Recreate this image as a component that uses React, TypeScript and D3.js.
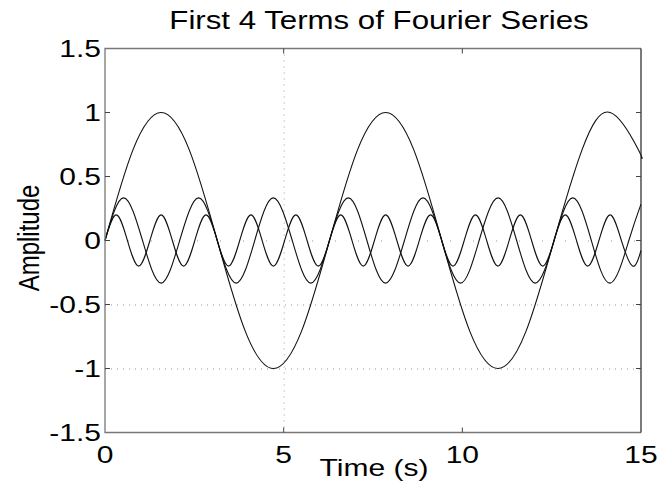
import React, { useEffect, useRef } from 'react';
import * as d3 from 'd3';

// values: peaks, troughs, zero crossings (and eighth points for the big one)
const term1: [number, number][] = [
  [0, 0], [0.785, 0.71], [1.571, 1], [2.356, 0.71], [3.142, 0], [3.927, -0.71],
  [4.712, -1], [5.498, -0.71], [6.283, 0], [7.069, 0.71], [7.854, 1], [8.639, 0.71],
  [9.425, 0], [10.21, -0.71], [10.996, -1], [11.781, -0.71], [12.566, 0], [13.352, 0.71],
  [14.137, 1], [14.923, 0.71], [15, 0.65],
];

const term3: [number, number][] = [
  [0, 0], [0.52, 0.333], [1.05, 0], [1.57, -0.333], [2.09, 0], [2.62, 0.333],
  [3.14, 0], [3.67, -0.333], [4.19, 0], [4.71, 0.333], [5.24, 0], [5.76, -0.333],
  [6.28, 0], [6.81, 0.333], [7.33, 0], [7.85, -0.333], [8.38, 0], [8.9, 0.333],
  [9.42, 0], [9.95, -0.333], [10.47, 0], [11.0, 0.333], [11.52, 0], [12.04, -0.333],
  [12.57, 0], [13.09, 0.333], [13.61, 0], [14.14, -0.333], [14.66, 0], [15, 0.284],
];

const term5: [number, number][] = [
  [0, 0], [0.314, 0.2], [0.628, 0], [0.942, -0.2], [1.257, 0], [1.571, 0.2],
  [1.885, 0], [2.199, -0.2], [2.513, 0], [2.827, 0.2], [3.142, 0], [3.456, -0.2],
  [3.77, 0], [4.084, 0.2], [4.398, 0], [4.712, -0.2], [5.027, 0], [5.341, 0.2],
  [5.655, 0], [5.969, -0.2], [6.283, 0], [6.597, 0.2], [6.912, 0], [7.226, -0.2],
  [7.54, 0], [7.854, 0.2], [8.168, 0], [8.482, -0.2], [8.796, 0], [9.111, 0.2],
  [9.425, 0], [9.739, -0.2], [10.053, 0], [10.367, 0.2], [10.681, 0], [10.996, -0.2],
  [11.31, 0], [11.624, 0.2], [11.938, 0], [12.252, -0.2], [12.566, 0], [12.881, 0.2],
  [13.195, 0], [13.509, -0.2], [13.823, 0], [14.137, 0.2], [14.451, 0], [14.765, -0.2],
  [15, -0.078],
];

const xTicks = [0, 5, 10, 15];
const yTicks = [-1.5, -1, -0.5, 0, 0.5, 1, 1.5];
const xGrid = [5];
const yGrid = [0, -0.5, -1];

const FONT = '"Liberation Sans", Arial, Helvetica, sans-serif';
const SX = 1.25; // text in the picture is stretched sideways

const App = () => {
  const svgRef = useRef<SVGSVGElement>(null);

  useEffect(() => {
    const svg = d3.select(svgRef.current);
    svg.selectAll('*').remove();

    const x = d3.scaleLinear().domain([0, 15]).range([105, 641]);
    const y = d3.scaleLinear().domain([-1.5, 1.5]).range([432.5, 48.5]);

    // grid (only the dotted bits that show)
    const grid = svg.append('g').attr('stroke', '#999').attr('stroke-width', 1);
    grid.selectAll('.gx').data(xGrid).enter().append('line')
      .attr('x1', d => x(d) + 0.5).attr('x2', d => x(d) + 0.5)
      .attr('y1', y(1.5)).attr('y2', y(-1.5))
      .attr('stroke-dasharray', '1,5');
    grid.selectAll('.gy').data(yGrid).enter().append('line')
      .attr('x1', x(0)).attr('x2', x(15))
      .attr('y1', d => y(d) + 0.5).attr('y2', d => y(d) + 0.5)
      .attr('stroke-dasharray', d => (d === 0 ? '1,22' : '1,5'));

    const line = d3.line<[number, number]>()
      .x(d => x(d[0]))
      .y(d => y(d[1]))
      .curve(d3.curveNatural);

    [term1, term3, term5].forEach(series => {
      svg.append('path')
        .datum(series)
        .attr('fill', 'none')
        .attr('stroke', '#111')
        .attr('stroke-width', 1.1)
        .attr('d', line);
    });

    // box
    svg.append('path')
      .attr('d', `M${x(15)},${y(1.5)}H${x(0)}V${y(-1.5)}H${x(15)}`)
      .attr('fill', 'none').attr('stroke', '#777').attr('stroke-width', 1.3);
    svg.append('line')
      .attr('x1', x(15)).attr('x2', x(15)).attr('y1', y(1.5)).attr('y2', y(-1.5))
      .attr('stroke', '#222').attr('stroke-width', 1.2);

    // ticks, inward on all four sides
    const ticks = svg.append('g').attr('stroke', '#444').attr('stroke-width', 1);
    xTicks.slice(1, -1).forEach(t => {
      ticks.append('line').attr('x1', x(t)).attr('x2', x(t)).attr('y1', y(1.5)).attr('y2', y(1.5) + 5);
      ticks.append('line').attr('x1', x(t)).attr('x2', x(t)).attr('y1', y(-1.5)).attr('y2', y(-1.5) - 5);
    });
    yTicks.slice(1, -1).forEach(t => {
      ticks.append('line').attr('x1', x(0)).attr('x2', x(0) + 5).attr('y1', y(t)).attr('y2', y(t));
      ticks.append('line').attr('x1', x(15)).attr('x2', x(15) - 5).attr('y1', y(t)).attr('y2', y(t));
    });

    const label = (tx: number, ty: number, text: string, anchor: string, size: number, rot = 0) => {
      svg.append('g')
        .attr('transform', `translate(${tx},${ty}) scale(${SX},1)${rot ? ` rotate(${rot})` : ''}`)
        .append('text')
        .attr('text-anchor', anchor)
        .attr('font-family', FONT)
        .attr('font-size', size)
        .attr('fill', '#000')
        .text(text);
    };

    xTicks.forEach(t => label(x(t), 463, String(t), 'middle', 24));
    yTicks.forEach(t => label(x(0) - 4, y(t) + 8.5, String(t), 'end', 24));

    label(379, 29, 'First 4 Terms of Fourier Series', 'middle', 25);
    label(374, 476, 'Time (s)', 'middle', 24);
    label(39, 238, 'Amplitude', 'middle', 24, -90);
  }, []);

  return (
    <svg
      ref={svgRef}
      width={663}
      height={483}
      style={{ position: 'absolute', left: 0, top: 0, background: '#fff' }}
    />
  );
};

export default App;
